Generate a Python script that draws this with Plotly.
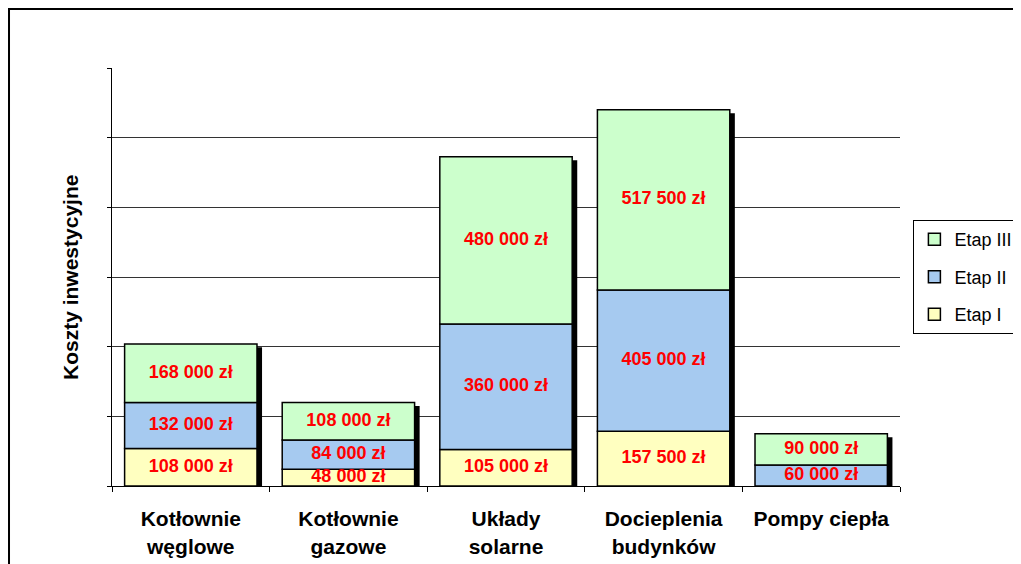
import plotly.graph_objects as go

# Data
categories = ["Kotłownie<br>węglowe", "Kotłownie<br>gazowe", "Układy<br>solarne",
              "Docieplenia<br>budynków", "Pompy ciepła"]
etap_1 = [108000, 48000, 105000, 157500, 0]
etap_2 = [132000, 84000, 360000, 405000, 60000]
etap_3 = [168000, 108000, 480000, 517500, 90000]

stages = [
    ("Etap I", etap_1, "#FFFFC0", 3),
    ("Etap II", etap_2, "#A6CAF0", 2),
    ("Etap III", etap_3, "#CCFFCC", 1),
]

FONT = "Arial, Liberation Sans, sans-serif"
BAR_W = 0.84


def fmt(v):
    return f"{v:,.0f}".replace(",", " ") + " zł"


totals = [a + b + c for a, b, c in zip(etap_1, etap_2, etap_3)]

fig = go.Figure()

# black drop shadow behind each stacked column
fig.add_trace(go.Bar(
    x=categories, y=[t - 10000 for t in totals], base=0,
    width=BAR_W, offset=-BAR_W / 2 + 0.032,
    marker=dict(color="black", line=dict(width=0)),
    showlegend=False, hoverinfo="skip",
))

base = [0] * len(categories)
label_traces = []
for name, vals, color, rank in stages:
    fig.add_trace(go.Bar(
        x=categories, y=vals, base=base[:], name=name,
        legendgroup=name, legendrank=rank,
        width=BAR_W, offset=-BAR_W / 2,
        marker=dict(color=color, line=dict(color="black", width=1.5)),
    ))
    mids = [b + v / 2 for b, v in zip(base, vals)]
    texts = [fmt(v) if v > 0 else "" for v in vals]
    label_traces.append(go.Scatter(
        x=categories, y=mids, text=texts, mode="text",
        textfont=dict(family=FONT, size=18, color="#FF0000", weight="bold"),
        showlegend=False, hoverinfo="skip",
    ))
    base = [b + v for b, v in zip(base, vals)]

for t in label_traces:
    fig.add_trace(t)

fig.update_layout(
    width=1013, height=556,
    barmode="overlay",
    paper_bgcolor="white", plot_bgcolor="white",
    margin=dict(l=104, r=121, t=60, b=78, autoexpand=False),
    font=dict(family=FONT, size=16, color="black"),
    legend=dict(
        x=1.017, y=0.636, xanchor="left", yanchor="top",
        traceorder="grouped", tracegroupgap=11,
        bgcolor="white", bordercolor="black", borderwidth=1,
        font=dict(family=FONT, size=18, color="black"),
        itemwidth=30,
    ),
    xaxis=dict(
        showline=True, linecolor="black", linewidth=1,
        ticks="outside", ticklen=5, tickcolor="black",
        tickson="boundaries", ticklabelstandoff=14,
        tickfont=dict(family=FONT, size=21, color="black", weight="bold"),
        showgrid=False,
    ),
    yaxis=dict(
        range=[0, 1200000], dtick=200000,
        showline=True, linecolor="black", linewidth=1,
        ticks="outside", ticklen=4, tickcolor="black",
        showticklabels=False,
        showgrid=True, gridcolor="#333333", gridwidth=1,
        zeroline=False,
    ),
    annotations=[dict(
        text="<b>Koszty inwestycyjne</b>", textangle=-90,
        x=-0.0533, y=0.5, xref="paper", yref="paper",
        xanchor="center", yanchor="middle",
        showarrow=False, font=dict(family=FONT, size=21, color="black"),
    )],
    shapes=[dict(
        type="rect", xref="paper", yref="paper",
        x0=-0.1307, x1=1.3, y0=-0.4, y1=1.1411,
        line=dict(color="black", width=2), fillcolor="rgba(0,0,0,0)",
        layer="below",
    )],
)

fig.write_html("out.html")
